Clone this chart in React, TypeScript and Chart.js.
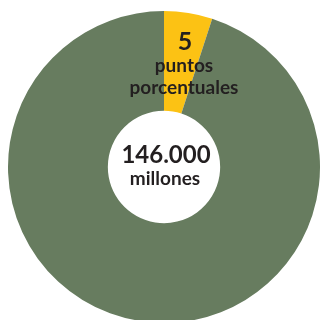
import React, { useEffect, useRef } from "react";
import { Chart, registerables } from "chart.js";

Chart.register(...registerables);

const categories = ["Aumento", "Resto"];
const values = [5, 95];
const colors = ["#fcc214", "#677c5f"];
const sliceLabel = ["5", "puntos", "porcentuales"];
const centerLabel = ["146.000", "millones"];

const textPlugin = {
  id: "texts",
  afterDraw(chart: any) {
    const ctx = chart.ctx;
    const a = chart.chartArea;
    const cx = (a.left + a.right) / 2;
    const cy = (a.top + a.bottom) / 2;
    ctx.save();
    ctx.fillStyle = "#231f20";
    ctx.textAlign = "center";
    ctx.textBaseline = "alphabetic";
    ctx.font = "bold 25px Lato";
    ctx.fillText(sliceLabel[0], cx + 21, cy - 117);
    ctx.font = "bold 19px Lato";
    ctx.fillText(sliceLabel[1], cx + 20, cy - 95);
    ctx.fillText(sliceLabel[2], cx + 20, cy - 73);
    ctx.font = "bold 24px Lato";
    ctx.fillText(centerLabel[0], cx + 2, cy - 4);
    ctx.font = "bold 19px Lato";
    ctx.fillText(centerLabel[1], cx + 1, cy + 18);
    ctx.restore();
  },
};

export default function App() {
  const ref = useRef<HTMLCanvasElement>(null);
  useEffect(() => {
    if (!ref.current) return;
    const chart = new Chart(ref.current, {
      type: "doughnut",
      data: {
        labels: categories,
        datasets: [
          {
            data: values,
            backgroundColor: colors,
            borderWidth: 0,
          },
        ],
      },
      options: {
        animation: false,
        responsive: false,
        cutout: "36%",
        plugins: { legend: { display: false }, tooltip: { enabled: false } },
        layout: { padding: 0 },
      },
      plugins: [textPlugin],
    });
    return () => chart.destroy();
  }, []);
  return (
    <div
      style={{
        position: "fixed",
        left: 0,
        top: 0,
        width: 320,
        height: 320,
        overflow: "hidden",
        background: "#fff",
      }}
    >
      <canvas
        ref={ref}
        width={312}
        height={312}
        style={{ position: "absolute", left: 8, top: 11, width: 312, height: 312 }}
      />
    </div>
  );
}
